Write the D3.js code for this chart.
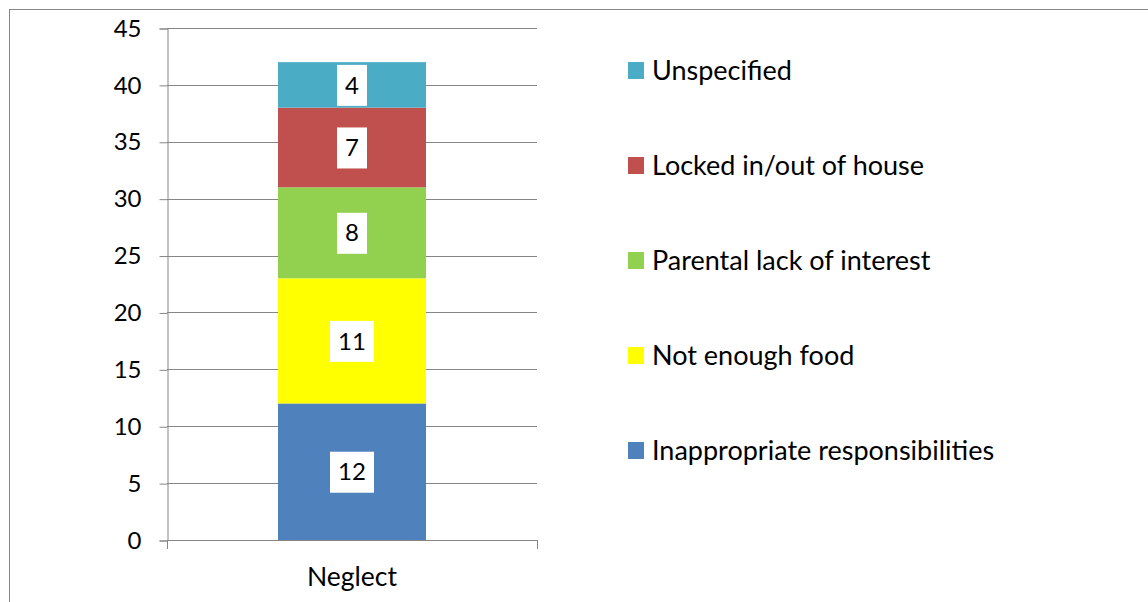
<!DOCTYPE html>
<html>
<head>
<meta charset="utf-8">
<script src="https://cdn.jsdelivr.net/npm/d3@7"></script>
<style>
	body { margin: 0; background: #fff; }
	svg { display: block; }
	text { font-family: Lato, "Open Sans", sans-serif; fill: #000; }
</style>
</head>
<body>
<div id="chart"></div>
<script>
// data
const categories = ['Neglect']
const seriesNames = ['Inappropriate responsibilities', 'Not enough food', 'Parental lack of interest', 'Locked in/out of house', 'Unspecified']
const seriesValues = [12, 11, 8, 7, 4]
const seriesColors = ['#4F81BD', '#FFFF00', '#92D050', '#C0504D', '#4BACC6']
const yTicks = [0, 5, 10, 15, 20, 25, 30, 35, 40, 45]

const width = 1148
const height = 602
const GRID = '#868686'

const svg = d3.select('#chart')
	.append('svg')
		.attr('width', width)
		.attr('height', height)

// outer frame (runs off the right/bottom edge like the original)
svg.append('rect')
	.attr('x', 9.5).attr('y', 9.5)
	.attr('width', 1300).attr('height', 700)
	.attr('fill', 'none')
	.attr('stroke', GRID)

const x = d3.scaleBand()
	.domain(categories)
	.range([167, 537])
	.paddingInner(0)
	.paddingOuter(0.75)

const y = d3.scaleLinear()
	.domain([0, 45])
	.range([540, 28])

// gridlines
svg.append('g')
	.selectAll('line')
	.data(yTicks)
	.join('line')
		.attr('x1', 167).attr('x2', 537)
		.attr('y1', d => Math.round(y(d)) + 0.5)
		.attr('y2', d => Math.round(y(d)) + 0.5)
		.attr('stroke', GRID)

// y axis
const yAxis = svg.append('g')
	.attr('transform', 'translate(167.5,0.5)')
	.call(d3.axisLeft(y).tickValues(yTicks).tickSize(8).tickPadding(18))
yAxis.select('.domain').attr('stroke', GRID)
yAxis.selectAll('.tick line').attr('stroke', GRID)
yAxis.selectAll('.tick text')
	.style('font-size', '24px')
	.style('font-family', 'Lato, sans-serif')
	.attr('fill', '#000')

// x axis line with end ticks
svg.append('line')
	.attr('x1', 167).attr('x2', 537)
	.attr('y1', Math.round(y(0)) + 0.5).attr('y2', Math.round(y(0)) + 0.5)
	.attr('stroke', GRID)
svg.append('g')
	.selectAll('line')
	.data(x.range())
	.join('line')
		.attr('x1', d => d + 0.5).attr('x2', d => d + 0.5)
		.attr('y1', y(0)).attr('y2', y(0) + 9)
		.attr('stroke', GRID)
svg.append('g')
	.selectAll('text')
	.data(categories)
	.join('text')
		.attr('x', d => x(d) + x.bandwidth() / 2)
		.attr('y', 586)
		.attr('text-anchor', 'middle')
		.style('font-size', '26.5px')
		.text(d => d)

// stacked segments
const stacked = []
let base = 0
seriesValues.forEach((v, i) => {
	stacked.push({ name: seriesNames[i], value: v, y0: base, y1: base + v, color: seriesColors[i] })
	base += v
})

const bars = svg.append('g')
bars.selectAll('rect')
	.data(stacked)
	.join('rect')
		.attr('x', x('Neglect'))
		.attr('width', x.bandwidth())
		.attr('y', d => y(d.y1))
		.attr('height', d => y(d.y0) - y(d.y1))
		.attr('fill', d => d.color)

// value labels on white boxes
const labels = svg.append('g')
	.selectAll('g')
	.data(stacked)
	.join('g')
		.attr('transform', d => `translate(${x('Neglect') + x.bandwidth() / 2},${y((d.y0 + d.y1) / 2)})`)
labels.append('rect')
	.attr('x', d => String(d.value).length > 1 ? -22 : -15)
	.attr('width', d => String(d.value).length > 1 ? 44 : 30)
	.attr('y', -20)
	.attr('height', 41)
	.attr('fill', '#fff')
labels.append('text')
	.attr('text-anchor', 'middle')
	.attr('dy', '0.36em')
	.style('font-size', '24px')
	.text(d => d.value)

// legend, top entry is last series
const legend = svg.append('g')
	.selectAll('g')
	.data(stacked.slice().reverse())
	.join('g')
		.attr('transform', (d, i) => `translate(628,${70 + i * 95})`)
legend.append('rect')
	.attr('y', -8)
	.attr('width', 16)
	.attr('height', 17)
	.attr('fill', d => d.color)
legend.append('text')
	.attr('x', 24)
	.attr('dy', '0.36em')
	.style('font-size', '27px')
	.text(d => d.name)
</script>
</body>
</html>
